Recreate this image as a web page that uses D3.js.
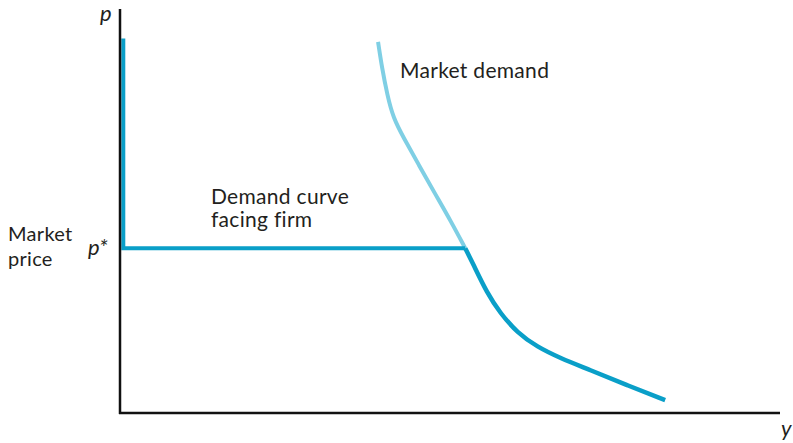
<!DOCTYPE html>
<html><head><meta charset="utf-8">
<script src="https://cdn.jsdelivr.net/npm/d3@7"></script>
<style>body{margin:0;background:#fff}svg{display:block}text{font-family:Lato,"Open Sans",sans-serif;fill:#231f20}</style>
</head><body><svg id="c" width="793" height="443"></svg>
<script>
// Data (quantity y, price p), arbitrary units 0-10
const pStar = 4.09;
const marketDemandUpper = [[3.91,9.21],[3.97,8.56],[4.05,7.89],[4.14,7.32],[4.30,6.82],[4.53,6.15],[4.76,5.48],[5.02,4.74],[5.23,4.09]];
const marketDemandLower = [[5.23,4.09],[5.35,3.70],[5.56,2.98],[5.76,2.48],[6.02,1.99],[6.32,1.64],[6.67,1.36],[7.12,1.07],[7.68,0.69],[8.26,0.32]];
const firmVertical = [[0.05,9.29],[0.05,pStar]];
const firmHorizontal = [[0.05,pStar],[5.23,pStar]];
const labels = {p:"p", y:"y", pStar:"p*", market:["Market","price"], firm:["Demand curve","facing firm"], demand:"Market demand"};

const svg = d3.select("#c");
const x = d3.scaleLinear().domain([0,10]).range([120,780]);
const y = d3.scaleLinear().domain([0,10]).range([413,10]);
const dark = "#0a9fc8", light = "#7fcfe4";
const line = d3.line().x(d=>x(d[0])).y(d=>y(d[1]));
const curve = d3.line().x(d=>x(d[0])).y(d=>y(d[1])).curve(d3.curveBasis);

svg.append("path").attr("d", curve(marketDemandUpper)).attr("fill","none").attr("stroke",light).attr("stroke-width",4);
svg.append("path").attr("d", line(firmVertical.concat(firmHorizontal.slice(1)))).attr("fill","none").attr("stroke",dark).attr("stroke-width",4).attr("stroke-linejoin","miter");
svg.append("path").attr("d", curve(marketDemandLower)).attr("fill","none").attr("stroke",dark).attr("stroke-width",4.5);

// axes
svg.append("line").attr("x1",x(0)).attr("x2",x(0)).attr("y1",9).attr("y2",y(0)+1).attr("stroke","#111").attr("stroke-width",2.5);
svg.append("line").attr("x1",x(0)-1).attr("x2",x(10)).attr("y1",y(0)).attr("y2",y(0)).attr("stroke","#111").attr("stroke-width",2.5);

svg.append("text").attr("x",x(0)-20).attr("y",21).attr("font-size",22).attr("font-style","italic").text(labels.p);
svg.append("text").attr("x",x(10)+1).attr("y",436).attr("font-size",22).attr("font-style","italic").text(labels.y);
svg.append("text").attr("x",x(0)-32).attr("y",y(pStar)+7).attr("font-size",22).attr("font-style","italic").text(labels.pStar);
labels.market.forEach((t,i)=>svg.append("text").attr("x",8).attr("y",241+i*25).attr("font-size",20).attr("letter-spacing",0.3).text(t));
labels.firm.forEach((t,i)=>svg.append("text").attr("x",211).attr("y",204+i*23).attr("font-size",21).attr("letter-spacing",0.3).text(t));
svg.append("text").attr("x",400).attr("y",78).attr("font-size",21).attr("letter-spacing",0.3).text(labels.demand);
</script></body></html>
